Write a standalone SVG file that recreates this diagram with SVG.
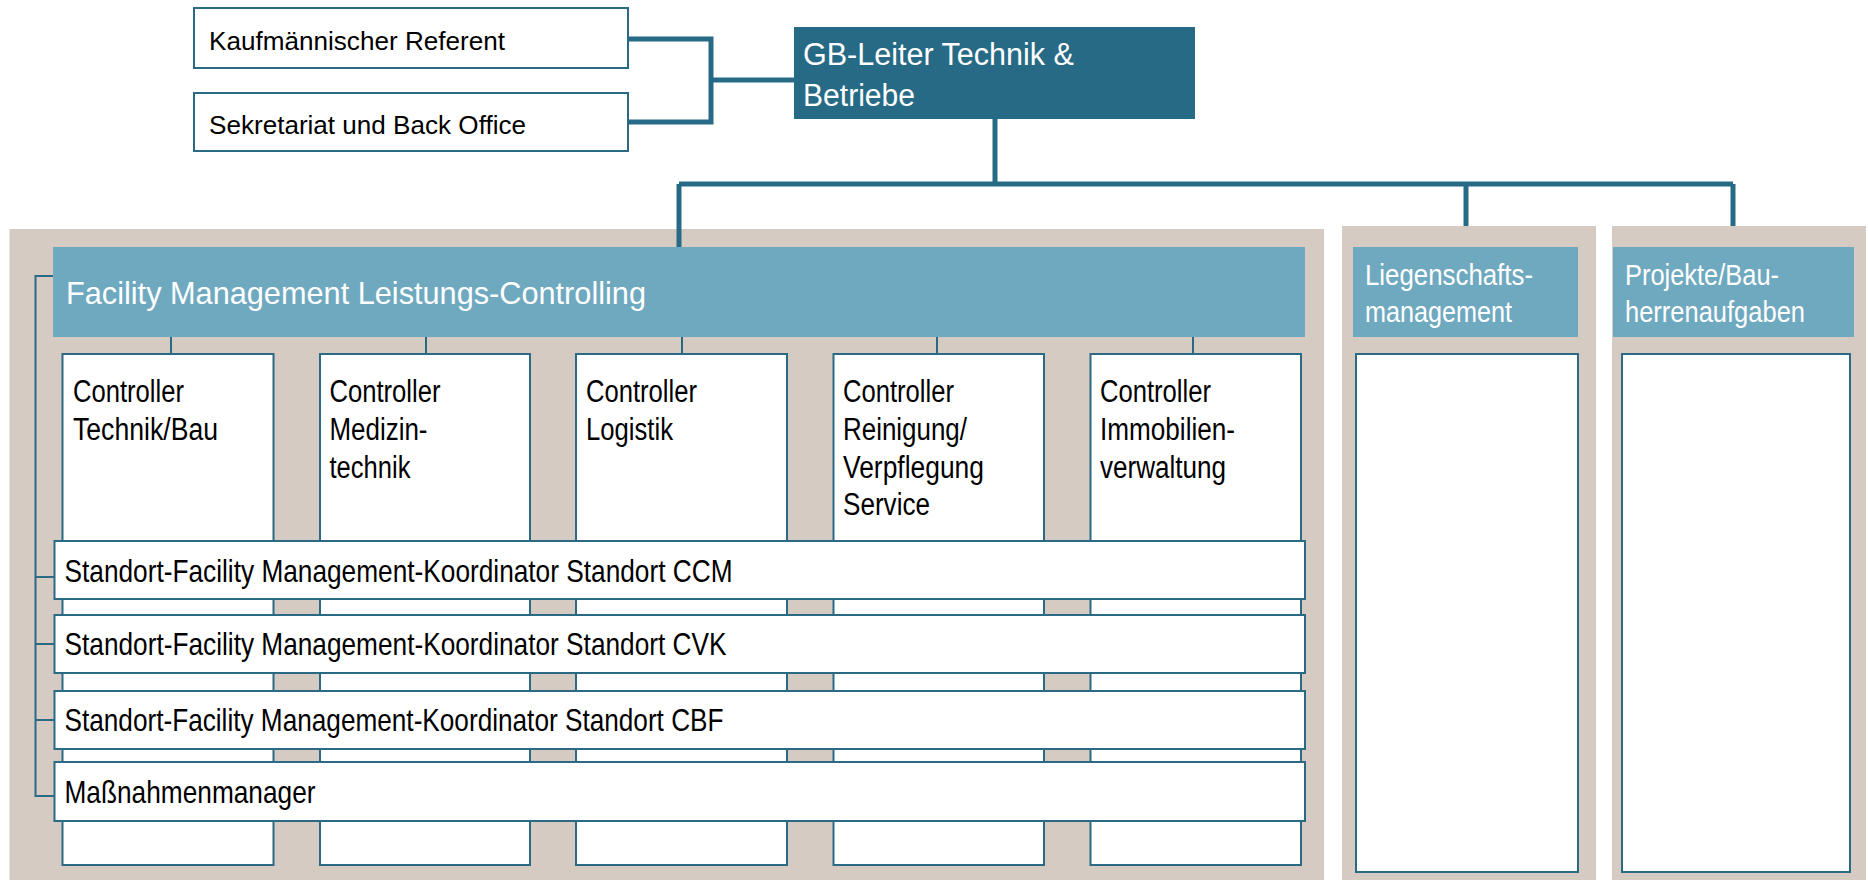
<svg xmlns="http://www.w3.org/2000/svg" width="1868" height="880" viewBox="0 0 1868 880">
<style>
.bg{fill:#d5cbc2}
.box{fill:#ffffff;stroke:#2a6a85;stroke-width:2}
.hdr{fill:#6fa9bf}
.dark{fill:#266a85}
.t{font-family:"Liberation Sans",Arial,sans-serif;fill:#000}
.w{font-family:"Liberation Sans",Arial,sans-serif;fill:#ffffff}
.thick{fill:none;stroke:#266a85;stroke-width:5}
.thin{fill:none;stroke:#2a6a85;stroke-width:2}
</style>
<rect width="1868" height="880" fill="#ffffff"/>
<g id="panels">
<rect class="bg" x="9.5" y="229" width="1314.5" height="651"/>
<rect class="bg" x="1342" y="226" width="254" height="654"/>
<rect class="bg" x="1612" y="226" width="254" height="654"/>
</g>
<g id="connectors">
<path class="thick" d="M628,39 H711 V122 H628"/>
<path class="thick" d="M711,80 H794"/>
<path class="thick" d="M995,119 V184"/>
<path class="thick" d="M679,184 H1733"/>
<path class="thick" d="M679,184 V247"/>
<path class="thick" d="M1466,184 V226"/>
<path class="thick" d="M1733,184 V226"/>
<path class="thin" d="M171,337 V354 M426,337 V354 M682,337 V354 M937,337 V354 M1193,337 V354"/>
<path class="thin" d="M55,276 H35.5 V796 H54.5 M35.5,577 H54.5 M35.5,644 H54.5 M35.5,720 H54.5"/>
</g>
<g id="kaufm">
<rect class="box" x="194" y="8" width="434" height="60"/>
<text class="t" x="209" y="50" font-size="26" textLength="296" lengthAdjust="spacingAndGlyphs">Kaufmännischer Referent</text>
</g>
<g id="sekretariat">
<rect class="box" x="194" y="93" width="434" height="58"/>
<text class="t" x="209" y="134" font-size="26" textLength="317" lengthAdjust="spacingAndGlyphs">Sekretariat und Back Office</text>
</g>
<g id="gb-leiter">
<rect class="dark" x="794" y="27" width="401" height="92"/>
<text class="w" x="803" y="65" font-size="31" textLength="271" lengthAdjust="spacingAndGlyphs">GB-Leiter Technik &amp;</text>
<text class="w" x="803" y="106" font-size="31" textLength="112" lengthAdjust="spacingAndGlyphs">Betriebe</text>
</g>
<g id="fm-header">
<rect class="hdr" x="53" y="247" width="1252" height="90"/>
<text class="w" x="66" y="304" font-size="32" textLength="580" lengthAdjust="spacingAndGlyphs">Facility Management Leistungs-Controlling</text>
</g>
<g id="ctrl-technik">
<rect class="box" x="62.5" y="354" width="211" height="511"/>
<text class="t" x="73" y="402" font-size="31" textLength="111" lengthAdjust="spacingAndGlyphs">Controller</text>
<text class="t" x="73" y="440" font-size="31" textLength="145" lengthAdjust="spacingAndGlyphs">Technik/Bau</text>
</g>
<g id="ctrl-medizin">
<rect class="box" x="320" y="354" width="210" height="511"/>
<text class="t" x="329.5" y="402" font-size="31" textLength="111" lengthAdjust="spacingAndGlyphs">Controller</text>
<text class="t" x="329.5" y="440" font-size="31" textLength="98" lengthAdjust="spacingAndGlyphs">Medizin-</text>
<text class="t" x="329.5" y="478" font-size="31" textLength="81" lengthAdjust="spacingAndGlyphs">technik</text>
</g>
<g id="ctrl-logistik">
<rect class="box" x="576" y="354" width="211" height="511"/>
<text class="t" x="586" y="402" font-size="31" textLength="111" lengthAdjust="spacingAndGlyphs">Controller</text>
<text class="t" x="586" y="440" font-size="31" textLength="87" lengthAdjust="spacingAndGlyphs">Logistik</text>
</g>
<g id="ctrl-reinigung">
<rect class="box" x="833.5" y="354" width="210.5" height="511"/>
<text class="t" x="843" y="402" font-size="31" textLength="111" lengthAdjust="spacingAndGlyphs">Controller</text>
<text class="t" x="843" y="440" font-size="31" textLength="124" lengthAdjust="spacingAndGlyphs">Reinigung/</text>
<text class="t" x="843" y="478" font-size="31" textLength="141" lengthAdjust="spacingAndGlyphs">Verpflegung</text>
<text class="t" x="843" y="515" font-size="31" textLength="87" lengthAdjust="spacingAndGlyphs">Service</text>
</g>
<g id="ctrl-immobilien">
<rect class="box" x="1090.5" y="354" width="210.5" height="511"/>
<text class="t" x="1100" y="402" font-size="31" textLength="111" lengthAdjust="spacingAndGlyphs">Controller</text>
<text class="t" x="1100" y="440" font-size="31" textLength="135" lengthAdjust="spacingAndGlyphs">Immobilien-</text>
<text class="t" x="1100" y="478" font-size="31" textLength="126" lengthAdjust="spacingAndGlyphs">verwaltung</text>
</g>
<g id="standort-ccm">
<rect class="box" x="54.5" y="541" width="1250.5" height="58"/>
<text class="t" x="64.5" y="582" font-size="32" textLength="668" lengthAdjust="spacingAndGlyphs">Standort-Facility Management-Koordinator Standort CCM</text>
</g>
<g id="standort-cvk">
<rect class="box" x="54.5" y="615" width="1250.5" height="58"/>
<text class="t" x="64.5" y="655" font-size="32" textLength="662" lengthAdjust="spacingAndGlyphs">Standort-Facility Management-Koordinator Standort CVK</text>
</g>
<g id="standort-cbf">
<rect class="box" x="54.5" y="691" width="1250.5" height="58"/>
<text class="t" x="64.5" y="731" font-size="32" textLength="659" lengthAdjust="spacingAndGlyphs">Standort-Facility Management-Koordinator Standort CBF</text>
</g>
<g id="massnahmen">
<rect class="box" x="54.5" y="762" width="1250.5" height="59"/>
<text class="t" x="64.5" y="803" font-size="32" textLength="251" lengthAdjust="spacingAndGlyphs">Maßnahmenmanager</text>
</g>
<g id="liegenschaft">
<rect class="hdr" x="1353" y="247" width="225" height="90"/>
<text class="w" x="1365" y="285" font-size="30" textLength="168" lengthAdjust="spacingAndGlyphs">Liegenschafts-</text>
<text class="w" x="1365" y="322" font-size="30" textLength="147" lengthAdjust="spacingAndGlyphs">management</text>
<rect class="box" x="1356" y="354" width="222" height="518"/>
</g>
<g id="projekte">
<rect class="hdr" x="1613" y="247" width="241" height="90"/>
<text class="w" x="1625" y="285" font-size="30" textLength="154" lengthAdjust="spacingAndGlyphs">Projekte/Bau-</text>
<text class="w" x="1625" y="322" font-size="30" textLength="180" lengthAdjust="spacingAndGlyphs">herrenaufgaben</text>
<rect class="box" x="1622" y="354" width="228" height="518"/>
</g>
</svg>
